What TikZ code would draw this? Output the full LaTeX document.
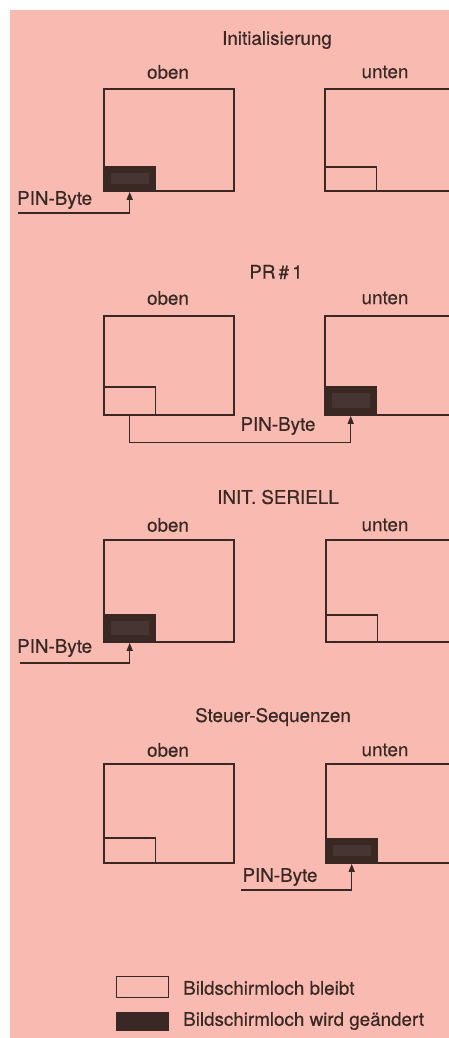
\documentclass[tikz,border=0pt]{standalone}
\usepackage{fontspec}
\setmainfont{TeX Gyre Heros}[FakeBold=0.5]
\usetikzlibrary{arrows.meta}
\definecolor{paper}{HTML}{F9BBB1}
\definecolor{ink}{HTML}{3A2824}
\definecolor{inset}{HTML}{463530}
\begin{document}
\begin{tikzpicture}[x=1pt,y=-1pt,
  screenbox/.style={draw=ink, line width=1.8pt, minimum width=130pt, inner sep=0pt, anchor=north west},
  hole/.style={draw=ink, line width=1.4pt, minimum width=52pt, inner sep=0pt, anchor=south west},
  holeset/.style={hole, fill=ink,
    path picture={\fill[inset] ([xshift=7pt,yshift=-6pt]path picture bounding box.north west)
      rectangle ([xshift=-7pt,yshift=7pt]path picture bounding box.south east);}},
  lbl/.style={font=\fontsize{18.8}{21}\selectfont\addfontfeature{FakeBold=0.5}, text=ink, inner sep=0pt},
  link/.style={draw=ink, line width=1.3pt, -{Triangle[width=6pt,length=8pt]}}]
\useasboundingbox (0,0) rectangle (449,1038);
\clip (0,0) rectangle (449,1038);
\fill[white] (0,0) rectangle (449,1038);
\fill[paper] (10,10) rectangle (449,1038);

% --- Initialisierung
\node[lbl] (t1) at (277,40) {Initialisierung};
\node[lbl] (o1) at (168,72) {oben};
\node[lbl] (u1) at (385,72) {unten};
\node[screenbox, minimum height=102pt] (s1o) at (103,88) {};
\node[screenbox, minimum height=102pt] (s1u) at (324,88) {};
\node[holeset, minimum height=24pt] (h1) at (s1o.south west) {};
\node[hole, minimum height=24pt] (e1) at (s1u.south west) {};
\node[lbl, anchor=west] (p1) at (17,200) {PIN-Byte};
\coordinate (a1) at (18,213);
\draw[link] (a1) -| (h1.south);

% --- PR#1
\node[lbl] (t2) at (276,272) {PR\,\#\,1};
\node[lbl] (o2) at (168,298) {oben};
\node[lbl] (u2) at (385,298) {unten};
\node[screenbox, minimum height=99pt] (s2o) at (103,315) {};
\node[screenbox, minimum height=99pt] (s2u) at (324,315) {};
\node[hole, minimum height=28pt] (e2) at (s2o.south west) {};
\node[holeset, minimum height=28pt] (h2) at (s2u.south west) {};
\node[lbl] (p2) at (278,426) {PIN-Byte};
\draw[link] (e2.south) -- ++(0,27) -| (h2.south);

% --- INIT. SERIELL
\node[lbl] (t3) at (278,497) {INIT. SERIELL};
\node[lbl] (o3) at (168,525) {oben};
\node[lbl] (u3) at (385,525) {unten};
\node[screenbox, minimum height=102pt] (s3o) at (103,539) {};
\node[screenbox, minimum height=102pt] (s3u) at (325,539) {};
\node[holeset, minimum height=27pt] (h3) at (s3o.south west) {};
\node[hole, minimum height=27pt] (e3) at (s3u.south west) {};
\node[lbl, anchor=west] (p3) at (17,648) {PIN-Byte};
\coordinate (a3) at (20,663);
\draw[link] (a3) -| (h3.south);

% --- Steuer-Sequenzen
\node[lbl] (t4) at (273,717) {Steuer-Sequenzen};
\node[lbl] (o4) at (168,750) {oben};
\node[lbl] (u4) at (385,750) {unten};
\node[screenbox, minimum height=99pt] (s4o) at (103,763) {};
\node[screenbox, minimum height=99pt] (s4u) at (325,763) {};
\node[hole, minimum height=25pt] (e4) at (s4o.south west) {};
\node[holeset, minimum height=24pt] (h4) at (s4u.south west) {};
\node[lbl] (p4) at (280,877) {PIN-Byte};
\coordinate (a4) at (241,890);
\draw[link] (a4) -| (h4.south);

% --- legend
\node[draw=ink, line width=1.4pt, minimum width=52pt, minimum height=21pt, inner sep=0pt, anchor=north west] (k1) at (116,976) {};
\node[draw=ink, fill=ink, line width=1.4pt, minimum width=52pt, minimum height=18pt, inner sep=0pt, anchor=north west] (k2) at (116,1012) {};
\node[lbl, anchor=west] (l1) at (183,988) {Bildschirmloch bleibt};
\node[lbl, anchor=west] (l2) at (183,1021) {Bildschirmloch wird geändert};
\end{tikzpicture}
\end{document}
